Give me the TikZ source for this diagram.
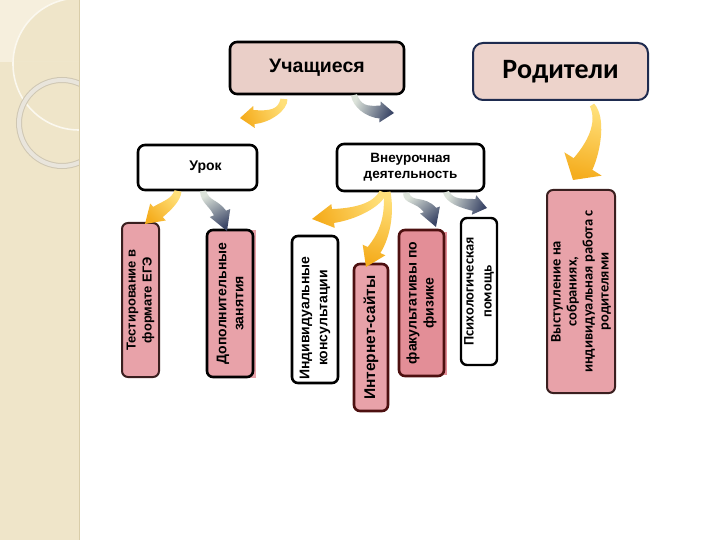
\documentclass[tikz,border=0pt]{standalone}
\usepackage{fontspec}
\setmainfont{Liberation Sans}
\newfontfamily\carlito{Carlito}
\usetikzlibrary{calc}
\definecolor{strip}{HTML}{EFE5C9}
\definecolor{stripline}{HTML}{D9CDA9}
\definecolor{leaf}{HTML}{F6EFDD}
\definecolor{ringc}{HTML}{E9E5DC}
\definecolor{ringe}{HTML}{CFC7B3}
\definecolor{arcl}{HTML}{FBF8EF}
\definecolor{studfill}{HTML}{EACFC8}
\definecolor{parfill}{HTML}{EDD3CB}
\definecolor{parline}{HTML}{1E2B4F}
\definecolor{pinkf}{HTML}{E8A2A9}
\definecolor{pinkd}{HTML}{E38E97}
\definecolor{brownl}{HTML}{3A1F1F}
\definecolor{maroon}{HTML}{4D1010}
\definecolor{ylight}{HTML}{FFE07A}
\definecolor{yhead}{HTML}{F5AD1E}
\definecolor{glight}{HTML}{DCE3DA}
\definecolor{ghead}{HTML}{3A4566}
% #1 shade style, #2 tail, #3 ctrl1, #4 ctrl2, #5 head base, #6 tip, #7 tail half width, #8 shaft half width, #9 head half width
\newcommand{\blockarrow}[9]{%
  \coordinate (aT) at (#2);
  \coordinate (aC) at (#3);
  \coordinate (aD) at (#4);
  \coordinate (aB) at (#5);
  \coordinate (aP) at (#6);
  \pgfmathsetmacro\wca{#7+(#8-#7)/3}%
  \pgfmathsetmacro\wcb{#7+2*(#8-#7)/3}%
  \pgfmathanglebetweenpoints{\pgfpointanchor{aT}{center}}{\pgfpointanchor{aP}{center}}%
  \pgfmathsetmacro\ashang{\pgfmathresult-90}%
  \shade[#1, shading angle=\ashang]
    ($(aT)!#7pt!90:(aC)$) .. controls ($(aC)!\wca pt!-90:(aT)$) and ($(aD)!\wcb pt!90:(aB)$) ..
    ($(aB)!#8pt!90:(aP)$) -- ($(aB)!#9pt!90:(aP)$) -- (aP) -- ($(aB)!#9pt!-90:(aP)$) --
    ($(aB)!#8pt!-90:(aP)$) .. controls ($(aD)!\wcb pt!-90:(aB)$) and ($(aC)!\wca pt!90:(aT)$) ..
    ($(aT)!#7pt!-90:(aC)$) -- cycle;
}
\begin{document}
\begin{tikzpicture}[x=1pt,y=-1pt,
  box/.style={draw, rounded corners=7pt, line width=2.6pt, inner sep=0pt, align=center},
  vbox/.style={box, rotate=90, rounded corners=6pt},
  yarrow/.style={top color=yhead, bottom color=ylight},
  garrow/.style={top color=ghead, bottom color=glight}]
\useasboundingbox (0,0) rectangle (720,540);
\fill[white] (0,0) rectangle (720,540);
% decorative strip
\begin{scope}
  \clip (0,0) rectangle (79,540);
  \fill[strip] (0,0) rectangle (80,540);
  \begin{scope}
    \clip (0,0) rectangle (80,62);
    \fill[leaf, even odd rule] (0,0) rectangle (80,62) (79,64) circle[radius=66pt];
  \end{scope}
  \draw[arcl, line width=1.6pt] (79,64) circle[radius=66pt];
  \draw[ringe, line width=6pt] (62,123) circle[radius=43pt];
  \draw[ringc, line width=4pt] (62,123) circle[radius=43pt];
\end{scope}
\draw[stripline, line width=1pt] (79.5,0) -- (79.5,540);

% top nodes
\node[box, fill=studfill, minimum width=174pt, minimum height=52pt,
  font=\bfseries\fontsize{19.5}{22}\selectfont] (stud) at (317,68) {Учащиеся};
\node[box, fill=parfill, draw=parline, line width=2pt, rounded corners=10pt,
  minimum width=175pt, minimum height=57pt,
  font=\carlito\bfseries\fontsize{28}{32}\selectfont] (par) at (560.5,71.5) {Родители};
\node[box, fill=white, minimum width=119pt, minimum height=45pt,
  font=\bfseries\fontsize{14}{17}\selectfont] (urok) at (197.5,167.5) {\hspace*{16pt}Урок};
\node[box, fill=white, minimum width=147pt, minimum height=47pt,
  font=\bfseries\fontsize{13.5}{16}\selectfont] (vne) at (410.5,167.5) {Внеурочная\\деятельность};

% background blocks
\fill[pinkf] (212,230) rectangle (256,378);
\fill[pinkd] (404,232) rectangle (447,375);

% vertical nodes
\node[vbox, fill=pinkf, draw=brownl, line width=2pt, minimum width=154pt, minimum height=37pt,
  font=\bfseries\fontsize{13}{16}\selectfont] (test) at (140.5,300) {Тестирование в\\формате ЕГЭ};
\node[vbox, fill=pinkf, minimum width=147pt, minimum height=46pt,
  font=\bfseries\fontsize{14}{17}\selectfont] (dop) at (230,303.5) {Дополнительные\\занятия};
\node[vbox, fill=white, minimum width=147pt, minimum height=46pt] (ind) at (315,309.5) {};
\node[rotate=90, inner sep=0pt, align=center,
  font=\bfseries\fontsize{14}{18}\selectfont] (indt) at (315,318) {Индивидуальные\\консультации};
\node[vbox, fill=pinkf, draw=maroon, minimum width=147pt, minimum height=34pt,
  font=\bfseries\fontsize{15.5}{17}\selectfont] (inet) at (371,337.5) {Интернет-сайты};
\node[vbox, fill=pinkd, draw=maroon, minimum width=146pt, minimum height=45pt,
  font=\bfseries\fontsize{14}{17}\selectfont] (fak) at (421.5,303) {факультативы по\\физике};
\node[vbox, fill=white, line width=2.4pt, minimum width=147pt, minimum height=36pt,
  font=\carlito\bfseries\fontsize{14.5}{18}\selectfont] (psy) at (479,291.5) {Психологическая\\помощь};
\node[vbox, fill=pinkf, draw=brownl, line width=2pt, minimum width=203pt, minimum height=68pt,
  font=\carlito\bfseries\fontsize{14.5}{16}\selectfont] (vys) at (581,291.5)
  {Выступление на\\собраниях,\\индивидуальная работа с\\родителями};

% curved block arrows
\blockarrow{yarrow}{284,99}{283,110}{270,117}{254,117}{240,118}{3.5}{7}{11}
\blockarrow{garrow}{354,95}{357,106}{366,112}{380,112}{394,113}{3}{6.5}{10.5}
\blockarrow{yarrow}{178,191}{176,200}{168,205}{158,212}{145,224}{3.5}{7}{11.5}
\blockarrow{garrow}{203,191}{205,202}{213,202}{220,213}{227,231}{3}{6.5}{11}
\blockarrow{yarrow}{383,192}{378,205}{355,214}{333,216}{312,219}{3.5}{7}{12}
\blockarrow{yarrow}{387,192}{390,215}{385,235}{374,250}{366,267}{3.5}{7}{12.5}
\blockarrow{garrow}{406,193}{408,204}{420,198}{430,210}{436,227}{3}{6.5}{10.5}
\blockarrow{garrow}{446,192}{450,202}{462,203}{474,205}{487,208}{3}{6}{10}
\blockarrow{yarrow}{592,105}{602,120}{594,147}{583,164}{573,180}{2.5}{11}{22}
\end{tikzpicture}
\end{document}
